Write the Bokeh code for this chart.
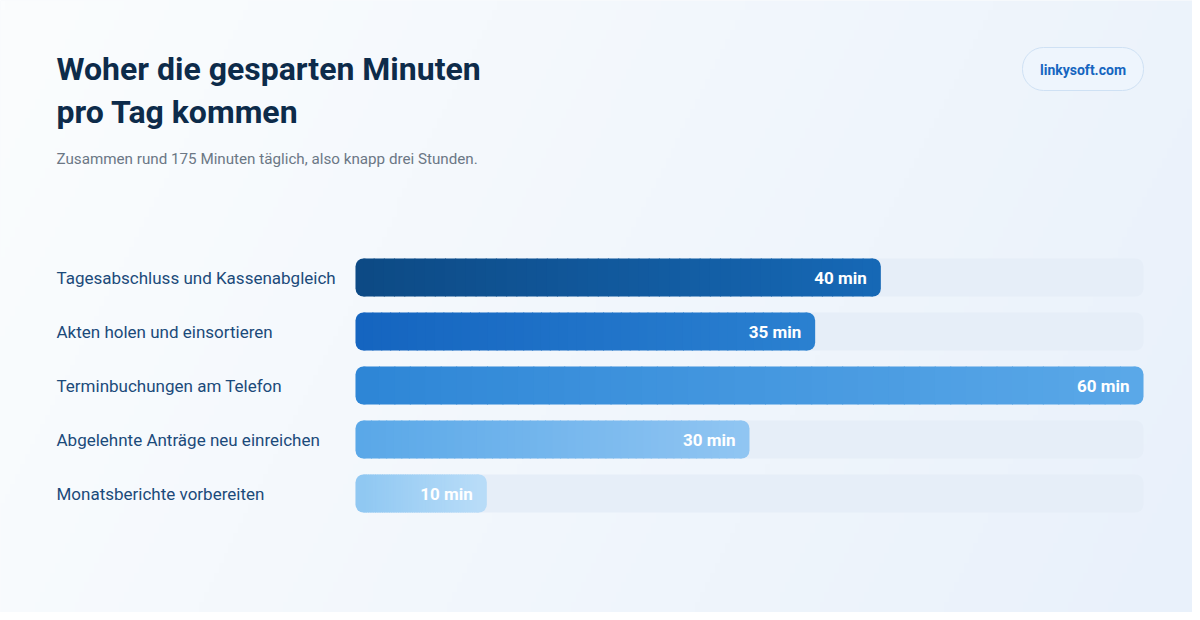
import numpy as np
from bokeh.plotting import figure, ColumnDataSource
from bokeh.models import Range1d
from bokeh.core.properties import value
from bokeh.embed import file_html
from bokeh.resources import INLINE

title_lines = ["Woher die gesparten Minuten", "pro Tag kommen"]
subtitle = "Zusammen rund 175 Minuten täglich, also knapp drei Stunden."
brand = "linkysoft.com"

tasks = [
    "Tagesabschluss und Kassenabgleich",
    "Akten holen und einsortieren",
    "Terminbuchungen am Telefon",
    "Abgelehnte Anträge neu einreichen",
    "Monatsberichte vorbereiten",
]
minutes = [40, 35, 60, 30, 10]
bar_start = ["#0d4a85", "#1565c0", "#2e86d6", "#5aa8e8", "#90c8f2"]
bar_end = ["#1668b5", "#2a80d0", "#5aa8e8", "#90c5f2", "#b8dcf8"]

FONT = value("Roboto")
W, H = 1192, 612

# pixel layout of the card (reference coords)
X0, X1 = 355, 1143          # bar zero .. full scale
ROW0, ROW_STEP = 277, 54    # first bar centre, spacing
BAR_H = 38
vmax = max(minutes)
k = (X1 - X0) / vmax        # px per minute


def fx(px):
    return (px - X0) / k


def fy(py):
    return (py - ROW0) / ROW_STEP


def hex2rgb(h):
    h = h.lstrip("#")
    return np.array([int(h[i:i + 2], 16) for i in (0, 2, 4)], dtype=float)


def rgb2hex(c):
    return "#%02x%02x%02x" % tuple(int(round(v)) for v in c)


p = figure(width=W, height=H, output_backend="svg", toolbar_location=None,
           x_range=Range1d(fx(0), fx(W)), y_range=Range1d(fy(H), fy(0)),
           min_border=0, outline_line_color=None)
p.axis.visible = False
p.grid.visible = False
p.background_fill_color = "#f4f8fc"
p.border_fill_color = "#f4f8fc"

# soft background gradient
ny, nx = 62, 240
gx = np.linspace(0, 1, nx)[None, :]
gy = np.linspace(0, 1, ny)[:, None]
t = np.clip(0.8 * gx + 0.2 * gy, 0, 1)
c0, c1 = hex2rgb("#fbfdfe"), hex2rgb("#e9f1fb")
img = np.empty((ny, nx), dtype=np.uint32)
view = img.view(dtype=np.uint8).reshape((ny, nx, 4))
for ch in range(3):
    view[:, :, ch] = (c0[ch] + (c1[ch] - c0[ch]) * t).astype(np.uint8)
view[:, :, 3] = 255
p.image_rgba(image=[img], x=fx(0), y=fy(0), dw=fx(W) - fx(0), dh=fy(H) - fy(0))

# titles
p.text(x=[fx(56)] * 2, y=[fy(68), fy(111)], text=title_lines, text_font=FONT,
       text_font_style="bold", text_font_size="32px", text_color="#0d2b4a",
       text_baseline="middle")
p.text(x=[fx(56)], y=[fy(158)], text=[subtitle], text_font=FONT,
       text_font_size="15.2px", text_color="#6b7785", text_baseline="middle")

# brand pill
p.hbar(y=[fy(68.5)], height=43 / ROW_STEP, left=[fx(1022)], right=[fx(1143)],
       fill_color="#eef5fd", line_color="#cfe1f4", line_width=1, border_radius=21)
p.text(x=[fx(1082.5)], y=[fy(69)], text=[brand], text_font=FONT, text_font_style="bold",
       text_font_size="14px", text_color="#1565c0", text_align="center",
       text_baseline="middle")

ys = list(range(len(tasks)))
bh = BAR_H / ROW_STEP
r = 8 / k

# tracks
p.hbar(y=ys, height=bh, left=0, right=vmax, fill_color="#e6eef8", line_color=None,
       border_radius=8)

# gradient bars: rounded end caps + thin overlapping slices in between
caps = dict(y=[], left=[], right=[], color=[])
sl = dict(y=[], left=[], right=[], color=[])
n = 50
overlap = 1.0 / k
for i, m in enumerate(minutes):
    a, b = hex2rgb(bar_start[i]), hex2rgb(bar_end[i])
    caps["y"] += [i, i]
    caps["left"] += [0, m - 2 * r]
    caps["right"] += [2 * r, m]
    caps["color"] += [bar_start[i], bar_end[i]]
    edges = np.linspace(r, m - r, n + 1)
    for j in range(n):
        f = (j + 0.5) / n
        sl["y"].append(i)
        sl["left"].append(edges[j])
        sl["right"].append(min(edges[j + 1] + overlap, m - r))
        sl["color"].append(rgb2hex(a + (b - a) * f))

p.hbar(y="y", left="left", right="right", height=bh, fill_color="color",
       line_color=None, border_radius=8, source=ColumnDataSource(caps))
p.hbar(y="y", left="left", right="right", height=bh, fill_color="color",
       line_color=None, source=ColumnDataSource(sl))

# task labels and values
p.text(x=fx(56), y=ys, text=tasks, text_font=FONT,
       text_font_size="17px", text_color="#1b4a7a", text_baseline="middle")
p.text(x=[m - 14 / k for m in minutes], y=ys,
       text=["%d min" % m for m in minutes], text_font=FONT, text_font_style="bold",
       text_font_size="17px", text_color="#ffffff", text_align="right",
       text_baseline="middle")

open("out.html", "w").write(file_html(p, INLINE))
